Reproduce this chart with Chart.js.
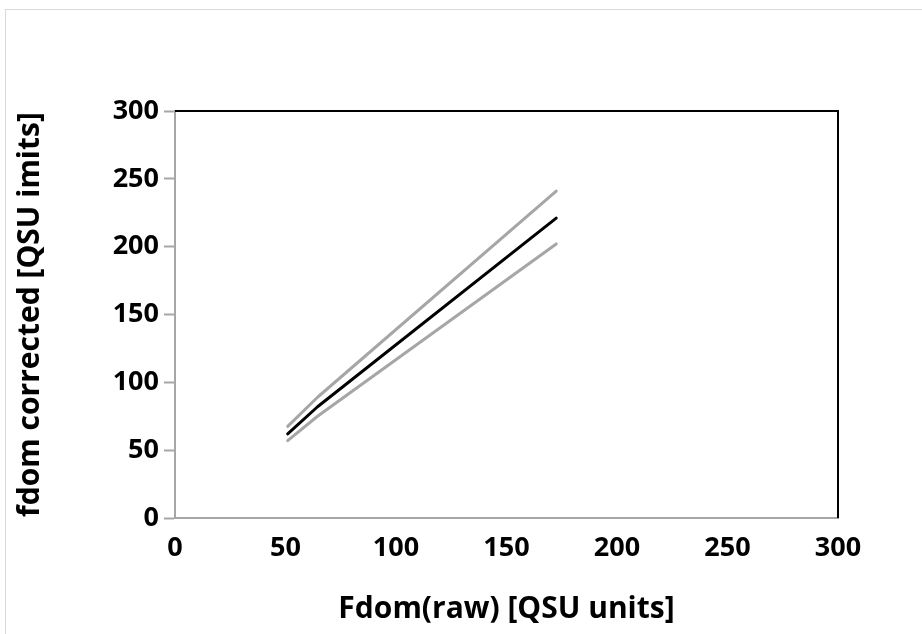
<!DOCTYPE html>
<html>
<head>
<meta charset="utf-8">
<script src="https://cdn.jsdelivr.net/npm/chart.js@4"></script>
<style>
  body { margin: 0; background: #fff; }
  #frame { position: absolute; left: 5px; top: 9px; width: 930px; height: 640px; border: 1px solid #d9d9d9; }
  #wrap { position: absolute; left: 0; top: 0; width: 922px; height: 634px; }
</style>
</head>
<body>
<div id="frame"></div>
<div id="wrap"><canvas id="fdom-chart" width="922" height="634"></canvas></div>
<script>
// values
const rawX = [51, 64.5, 172.5]
const fdomCorrected = [62, 82, 221]
const upperBound = [67.5, 89, 241]
const lowerBound = [57, 75, 202]
const tickValues = [0, 50, 100, 150, 200, 250, 300]

const ctx = document.getElementById('fdom-chart')
const tickFont = { family: 'Open Sans', weight: 'bold', size: 27 }
const titleFont = { family: 'Open Sans', weight: 'bold', size: 30 }

function toPoints(ys) {
    return rawX.map((x, i) => ({ x: x, y: ys[i] }))
}

function lineSet(label, ys, color) {
    return {
        label: label,
        data: toPoints(ys),
        showLine: true,
        borderColor: color,
        borderWidth: 3,
        borderCapStyle: 'round',
        borderJoinStyle: 'round',
        pointRadius: 0,
        tension: 0
    }
}

// top and right edges of the plot area are black
const frameEdges = {
    id: 'frameEdges',
    afterDraw(chart) {
        const a = chart.chartArea
        const c = chart.ctx
        c.save()
        c.strokeStyle = '#000'
        c.lineWidth = 2
        c.beginPath()
        c.moveTo(a.left, a.top)
        c.lineTo(a.right, a.top)
        c.lineTo(a.right, a.bottom)
        c.stroke()
        c.restore()
    }
}

new Chart(ctx, {
    type: 'scatter',
    data: {
        datasets: [
            lineSet('upper', upperBound, '#a6a6a6'),
            lineSet('lower', lowerBound, '#a6a6a6'),
            lineSet('fdom', fdomCorrected, '#000000')
        ]
    },
    options: {
        responsive: false,
        animation: false,
        layout: { padding: { left: 0, top: 111, right: 84, bottom: 0 } },
        plugins: { legend: { display: false }, tooltip: { enabled: false } },
        scales: {
            x: {
                min: 0, max: 300,
                afterBuildTicks(s) { s.ticks = tickValues.map(v => ({ value: v })) },
                afterFit(s) { s.height = 116 },
                grid: { drawOnChartArea: false, drawTicks: false },
                border: { color: '#a6a6a6', width: 2 },
                ticks: { color: '#000', font: tickFont, padding: 14, maxRotation: 0 },
                title: { display: true, text: 'Fdom(raw) [QSU units]', color: '#000', font: titleFont, padding: { top: 0, bottom: 7 } }
            },
            y: {
                min: 0, max: 300,
                afterBuildTicks(s) { s.ticks = tickValues.map(v => ({ value: v })) },
                afterFit(s) { s.width = 175 },
                grid: { drawOnChartArea: false, drawTicks: true, tickLength: 11, color: '#a6a6a6', tickWidth: 2 },
                border: { color: '#a6a6a6', width: 2 },
                ticks: { color: '#000', font: tickFont, padding: 5 },
                title: { display: true, text: 'fdom corrected [QSU imits]', color: '#000', font: titleFont, padding: { top: 12, bottom: 0 } }
            }
        }
    },
    plugins: [frameEdges]
})
</script>
</body>
</html>
